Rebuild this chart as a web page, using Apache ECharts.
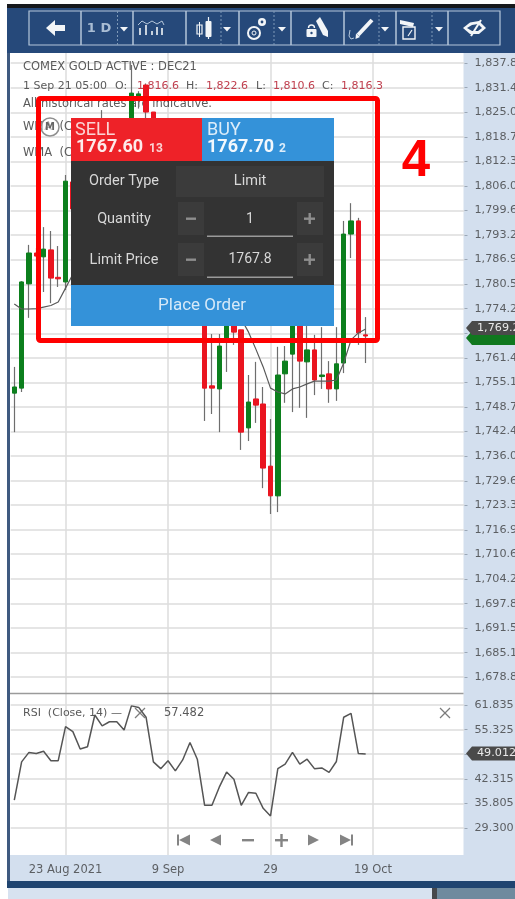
<!DOCTYPE html>
<html><head><meta charset="utf-8">
<style>html,body{margin:0;padding:0;background:#fff;overflow:hidden}#c{width:515px;height:899px}</style>
<script src="https://cdn.jsdelivr.net/npm/echarts@6/dist/echarts.min.js"></script>
</head><body><div id="c"></div>
<script>
const categories = ['12 Aug','13 Aug','16 Aug','17 Aug','18 Aug','19 Aug','20 Aug','23 Aug 2021','24 Aug','25 Aug','26 Aug','27 Aug','30 Aug','31 Aug','1 Sep','2 Sep','3 Sep','5 Sep','6 Sep','7 Sep','8 Sep','9 Sep','10 Sep','13 Sep','14 Sep','15 Sep','16 Sep','17 Sep','20 Sep','21 Sep','22 Sep','23 Sep','24 Sep','27 Sep','28 Sep','29','30 Sep','1 Oct','4 Oct','5 Oct','6 Oct','7 Oct','8 Oct','11 Oct','12 Oct','13 Oct','14 Oct','15 Oct','18 Oct','19 Oct','20 Oct','21 Oct','22 Oct','25 Oct','26 Oct','27 Oct','28 Oct','29 Oct','1 Nov','2 Nov','3 Nov','4 Nov'];
const labelledDates = ['23 Aug 2021','9 Sep','29','19 Oct'];
const opens = [1752.3,1753.6,1780.6,1788.6,1787.6,1789.4,1782.3,1781.1,1807.0,1800.0,1806.0,1812.0,1808.0,1818.0,1816.6,1816.0,1813.0,1828.2,1832.1,1825.1,1816.0,1816.0,1808.0,1812.0,1803.0,1796.0,1798.0,1754.2,1753.4,1766.6,1773.5,1768.7,1743.3,1750.8,1749.5,1733.4,1725.7,1757.3,1762.4,1771.5,1760.4,1763.5,1756.6,1757.3,1753.4,1760.1,1793.5,1796.9,1767.4];
const closes = [1753.9,1781.1,1788.6,1787.8,1789.6,1782.1,1781.9,1807.2,1800.0,1806.0,1812.0,1808.0,1818.0,1821.0,1816.3,1813.0,1830.0,1829.8,1825.1,1816.0,1818.0,1808.0,1812.0,1803.0,1796.0,1799.0,1753.6,1753.6,1764.5,1774.0,1768.1,1742.2,1750.0,1749.2,1732.9,1725.7,1757.0,1760.6,1773.0,1760.6,1763.5,1755.7,1757.0,1753.4,1759.9,1793.5,1796.9,1767.9,1767.1];
const lows = [1742.2,1752.6,1771.8,1786.3,1778.5,1775.6,1779.8,1779.0,1797,1798,1803,1805,1806,1816,1810.6,1811,1811,1826,1823.5,1812,1812,1805,1806,1801,1794,1794,1745.1,1746.9,1742.2,1757.8,1764.8,1737.6,1739.9,1744.6,1727.7,1721.0,1721.5,1749.8,1747.4,1748.5,1745.9,1751.8,1753.4,1749.8,1750.3,1757.5,1787.3,1764.8,1760.1];
const highs = [1759.1,1781.3,1790.7,1789.9,1795.3,1794.3,1790.4,1808.8,1809,1808,1814,1814,1825.6,1822.5,1822.6,1818,1837.3,1830.5,1832.5,1823,1820,1817,1814,1814,1804,1800,1800,1767.6,1767.6,1778,1775,1768.7,1757.0,1760.4,1753.9,1745.6,1764.3,1764.5,1777,1773,1771.2,1767.4,1769.4,1760.6,1769.4,1796.9,1801.5,1797.7,1772.0];
const wma = [1775.4,1774.1,1774.1,1774.2,1774.6,1775.0,1775.9,1779.5,1783.1,1788.1,1792.5,1795.8,1798.4,1801.0,1803.6,1806.2,1808.0,1810.1,1811.4,1812.7,1813.2,1812.7,1811.4,1809.6,1807.5,1804.9,1801.0,1795.8,1789.4,1782.9,1776.4,1771.5,1768.1,1763.7,1759.1,1753.6,1752.6,1752.1,1753.4,1753.9,1754.7,1755.4,1755.4,1755.4,1755.7,1760.1,1766.1,1767.9,1768.9];
const rsi = [36.7,46.8,49.3,49.0,49.6,47.1,47.1,56.1,54.8,50.2,50.8,59.2,56.3,57.4,57.4,55.2,61.6,61.2,58.6,46.8,45.0,47.1,44.4,47.3,51.9,47.5,35.3,35.3,40.1,44.1,42.2,35.3,38.7,38.5,34.5,32.5,45.0,46.2,49.3,46.2,47.5,45.0,45.2,44.0,46.9,58.6,59.6,49.0,48.9];
const priceTicks = [1837.8,1831.4,1825.0,1818.7,1812.3,1806.0,1799.6,1793.2,1786.9,1780.5,1774.2,1767.8,1761.4,1755.1,1748.7,1742.4,1736.0,1729.6,1723.3,1716.9,1710.6,1704.2,1697.8,1691.5,1685.1,1678.8];
const rsiTicks = [61.835,55.325,48.815,42.315,35.805,29.300];
const lastPrice = 1769.2, lastClose = 1767.1, lastRsi = 49.012;

const AXC='#5c5f63', GRID='#dcdcdc', UP='#0c7f1d', DOWN='#ea1520', WICK='#6e6e6e';
const axisFont='"DejaVu Sans"';
const chart = echarts.init(document.getElementById('c'),null,{renderer:'canvas'});
const wickData = opens.map((o,i)=>[o,closes[i],lows[i],highs[i]]);
const bodyData = opens.map((o,i)=>[o,closes[i],Math.min(o,closes[i]),Math.max(o,closes[i])]);
const L=10.64,R=50.5;
const xBase = {type:'category',data:categories,boundaryGap:true,
  axisLine:{show:false},
  axisTick:{show:false},
  splitLine:{show:true,alignWithLabel:true,interval:(i,v)=>labelledDates.includes(v),lineStyle:{color:GRID,width:1.5}}};
const yBase = {type:'value',position:'right',scale:true,axisLine:{show:false},
  splitLine:{show:true,lineStyle:{color:GRID,width:1.5}}};
chart.setOption({
  animation:false,
  backgroundColor:'#ffffff',
  grid:[{left:L,right:R,top:53,height:640,outerBoundsMode:'none',containLabel:false},{left:L,right:R,top:694,height:161,outerBoundsMode:'none',containLabel:false}],
  xAxis:[
    Object.assign({},xBase,{gridIndex:0,axisLabel:{show:false}}),
    Object.assign({},xBase,{gridIndex:1,position:'bottom',
      axisLabel:{show:true,interval:(i,v)=>labelledDates.includes(v),margin:9,color:AXC,fontFamily:axisFont,fontSize:11.5}})
  ],
  yAxis:[
    Object.assign({},yBase,{gridIndex:0,min:1674.65,max:1840.39,
      axisTick:{show:true,length:3,lineStyle:{color:'#9aa7b6'},customValues:priceTicks},
      axisLabel:{margin:10,color:AXC,fontFamily:axisFont,fontSize:11.2,customValues:priceTicks,showMinLabel:true,showMaxLabel:true,
        formatter:v=>v.toLocaleString('en-US',{minimumFractionDigits:1,maximumFractionDigits:1})}}),
    Object.assign({},yBase,{gridIndex:1,min:22.16,max:64.744,
      axisTick:{show:true,length:3,lineStyle:{color:'#9aa7b6'},customValues:rsiTicks},
      axisLabel:{margin:10,color:AXC,fontFamily:axisFont,fontSize:11.2,customValues:rsiTicks,showMinLabel:true,showMaxLabel:true,
        formatter:v=>v.toFixed(3)}})
  ],
  series:[
    {type:'candlestick',xAxisIndex:0,yAxisIndex:0,data:wickData,barWidth:1,silent:true,
     itemStyle:{color:WICK,color0:WICK,borderColor:WICK,borderColor0:WICK,borderColorDoji:WICK,borderWidth:1.2}},
    {type:'candlestick',xAxisIndex:0,yAxisIndex:0,data:bodyData,barWidth:5,silent:true,
     itemStyle:{color:UP,color0:DOWN,borderColor:UP,borderColor0:DOWN,borderColorDoji:DOWN,borderWidth:1}},
    {type:'line',xAxisIndex:0,yAxisIndex:0,data:wma,showSymbol:false,silent:true,smooth:false,lineStyle:{color:'#5a5a5a',width:1.2},z:4},
    {type:'line',xAxisIndex:1,yAxisIndex:1,data:rsi,showSymbol:false,silent:true,smooth:false,lineStyle:{color:'#555555',width:1.5},z:4}
  ]
});

const G=[];
const base={silent:true};
function rect(x,y,w,h,fill,z,r){G.push({...base,type:'rect',z,shape:{x,y,width:w,height:h,r:r||0},style:{fill}})}
function poly(pts,fill,z){G.push({...base,type:'polygon',z,shape:{points:pts},style:{fill}})}
function line(x1,y1,x2,y2,stroke,w,z,extra){G.push({...base,type:'line',z,shape:{x1,y1,x2,y2},style:Object.assign({stroke,lineWidth:w},extra||{})})}
function pline(pts,stroke,w,z){G.push({...base,type:'polyline',z,shape:{points:pts},style:{stroke,lineWidth:w,fill:null}})}
function circ(cx,cy,r,fill,stroke,w,z){G.push({...base,type:'circle',z,shape:{cx,cy,r},style:{fill:fill||'transparent',stroke:stroke||null,lineWidth:w||0}})}
function txt(x,y,t,o,z){G.push({...base,type:'text',z,x,y,style:Object.assign({text:t,fontFamily:'"DejaVu Sans"',fontSize:11.5,fill:'#555',textAlign:'left',textVerticalAlign:'middle'},o)})}

// page frame and axis strips
const STRIP='#d3dfee', BAR='#26497a';
rect(463.5,53,52,802,STRIP,-5);
rect(7,855,508,26,STRIP,-5);
rect(0,0,7,899,'#ffffff',30);
rect(7,53,3,829,'#3f5a80',30);
rect(7,881,508,7,'#1f4470',30);
rect(8,888,507,11,'#d7e2f0',30);
rect(432,888,5,11,'#46484c',31);
rect(437,888,78,11,'#6f8a9e',31);
rect(7,4,508,4,'#16181c',30);
rect(7,8,508,45,BAR,30);
rect(0,0,515,4,'#ffffff',30);
line(10,693.5,463.5,693.5,'#9b9b9b',1.5,6);

// toolbar
const TL='#b4c6da', TW='#f2f5f8';
G.push({...base,type:'rect',z:31,shape:{x:29,y:11,width:471,height:34},style:{fill:'transparent',stroke:TL,lineWidth:1.2}});
[81,133,186,239,291,344,396,448].forEach(x=>line(x,11,x,45,TL,1.5,31));
[117.5,221,274,379,432].forEach(x=>line(x,11,x,45,'#7f9ab8',1,31,{lineDash:[2,2]}));
poly([[46,28],[55,20],[55,25],[65,25],[65,31],[55,31],[55,36]],TW,32);
txt(99,29,'1 D',{fontFamily:'"DejaVu Sans"',fontSize:13,fontWeight:'bold',fill:'#a9bdd4',textAlign:'center'},32);
[124,227,282,385,439].forEach(x=>poly([[x-4,27],[x+4,27],[x,31.5]],TW,32));
pline([[138,25],[142,21],[147,24],[152,21],[157,24],[162,21],[164,25]],TL,1,32);
[[140,28],[146,25],[152,31],[157,27],[162,28]].forEach(b=>line(b[0],b[1],b[0],35,TW,1.6,32));
G.push({...base,type:'rect',z:32,shape:{x:197,y:25,width:5,height:9},style:{fill:'transparent',stroke:TW,lineWidth:1.2}});
line(199.5,22,199.5,37,TW,1,32);
rect(205.5,21,6,16,TW,32,1);line(208.5,17,208.5,39,TW,1.2,32);
circ(254,33,6,'transparent',TW,2,32);circ(254,33,2,'transparent',TW,1,32);
circ(262,22,4,TW,null,0,32);circ(262,22,1.4,BAR,null,0,32);
rect(306.5,29,10,8,TW,32,1);circ(311.5,33,1.2,BAR,null,0,33);
G.push({...base,type:'arc',z:32,shape:{cx:311.5,cy:28,r:3,startAngle:Math.PI,endAngle:0},style:{fill:null,stroke:TW,lineWidth:1.4}});
poly([[316,21],[320,17],[328,31],[328,37],[323,35]],TW,32);
line(372,20,358,35,TW,4,32);poly([[355.5,39],[356,33.5],[360,37]],TW,32);
pline([[350,30],[349,36],[351,39],[354,38]],TL,1,32);
G.push({...base,type:'rect',z:32,shape:{x:403,y:27,width:12,height:12},style:{fill:'transparent',stroke:TW,lineWidth:1.4}});
poly([[400,20],[414,23],[413,27],[400,24]],TW,32);line(408,36,412,30,TW,1.2,32);
poly([[463,28],[470,22.5],[479,21],[486,28],[479,34],[470,34]],TW,32);
poly([[467,28],[472,25],[478,24],[482,28],[478,31],[472,31]],BAR,33);
line(471,36,481,20,TW,2,34);

// info text
txt(23,67.5,'COMEX GOLD ACTIVE : DEC21',{fill:'#5a5a5a'},1);
txt(23,86,'1 Sep 21 05:00',{fill:'#5a5a5a',fontSize:11},1);
txt(115,86,'O:',{fill:'#5a5a5a',fontSize:11},1);txt(137,86,'1,816.6',{fill:'#c0404f',fontSize:11},1);
txt(186,86,'H:',{fill:'#5a5a5a',fontSize:11},1);txt(206,86,'1,822.6',{fill:'#c0404f',fontSize:11},1);
txt(256,86,'L:',{fill:'#5a5a5a',fontSize:11},1);txt(273,86,'1,810.6',{fill:'#c0404f',fontSize:11},1);
txt(322,86,'C:',{fill:'#5a5a5a',fontSize:11},1);txt(341,86,'1,816.3',{fill:'#c0404f',fontSize:11},1);
txt(23,104.5,'All historical rates are indicative.',{fill:'#5a5a5a'},1);
txt(23,127.5,'WMA  (C',{fill:'#5a5a5a'},1);
circ(50,127,9,'rgba(255,255,255,0.6)','#8f8f8f',1.5,5);
txt(50,127,'M',{fill:'#666',fontSize:10,fontWeight:'bold',textAlign:'center'},6);
txt(23,153,'WMA  (C',{fill:'#5a5a5a'},1);

// order panel
const PF='Roboto';
rect(71,118,131,43,'#ee2228',20);
rect(202,118,132,43,'#3492d9',20);
rect(71,161,263,124,'#333333',20);
rect(71,285,263,41,'#3492d9',20);
txt(75,130,'SELL',{fontFamily:PF,fontSize:18,fill:'#fbd4d4'},21);
txt(76,147.5,'1767.60',{fontFamily:PF,fontSize:18,fontWeight:'bold',fill:'#fdeaea'},21);
txt(149,149,'13',{fontFamily:PF,fontSize:12,fontWeight:'bold',fill:'#fbd4d4'},21);
txt(207,130,'BUY',{fontFamily:PF,fontSize:18,fill:'#dcedfa'},21);
txt(207,147.5,'1767.70',{fontFamily:PF,fontSize:18,fontWeight:'bold',fill:'#f2f8fd'},21);
txt(279,149,'2',{fontFamily:PF,fontSize:12,fontWeight:'bold',fill:'#dcedfa'},21);
const PT='#d8d8d8';
txt(124,181.5,'Order Type',{fontFamily:PF,fontSize:14.5,fill:PT,textAlign:'center'},21);
txt(124,219.5,'Quantity',{fontFamily:PF,fontSize:14.5,fill:PT,textAlign:'center'},21);
txt(124,260,'Limit Price',{fontFamily:PF,fontSize:14.5,fill:PT,textAlign:'center'},21);
rect(176,166,148,31,'#3b3b3b',21);
txt(250,181,'Limit',{fontFamily:PF,fontSize:14.5,fill:PT,textAlign:'center'},22);
[[202,236],[243,277]].forEach(r=>{
  rect(178,r[0],26,r[1]-r[0]-1,'#3b3b3b',21);
  rect(297,r[0],26,r[1]-r[0]-1,'#3b3b3b',21);
  const m=(r[0]+r[1])/2-0.5;
  rect(186,m-1,10,2.4,'#8e8e8e',22);
  rect(304,m-1,11,2.4,'#8e8e8e',22);
  rect(308.5,m-5.5,2.4,11,'#8e8e8e',22);
  rect(207,r[1]-0.5,86,1.6,'#9a9a9a',22);
});
txt(250,219,'1',{fontFamily:PF,fontSize:14,fill:PT,textAlign:'center'},22);
txt(250,259.5,'1767.8',{fontFamily:PF,fontSize:14,fill:PT,textAlign:'center'},22);
txt(202,305.5,'Place Order',{fontFamily:PF,fontSize:17,fill:'#d6e9f8',textAlign:'center'},21);

// annotation
G.push({...base,type:'rect',z:25,shape:{x:38.5,y:98.5,width:339,height:242,r:2},style:{fill:'transparent',stroke:'#ff0000',lineWidth:5}});
txt(416,162,'4',{fontFamily:'"Liberation Sans"',fontSize:51,fontWeight:'bold',fill:'#ff0000',textAlign:'center'},25);

// RSI overlay text and controls
txt(23,713,'RSI  (Close, 14) —',{fill:'#5a5a5a',fontSize:11},1);
line(135,708,145,718,'#7c7c7c',1.3,1);line(145,708,135,718,'#7c7c7c',1.3,1);
txt(164,713,'57.482',{fill:'#5a5a5a',fontSize:11.5},1);
line(440,708,450,718,'#7c7c7c',1.3,6);line(450,708,440,718,'#7c7c7c',1.3,6);
const NAV='#848484';
rect(177,834.5,2,11,NAV,6);poly([[179,840],[190,834.5],[190,845.5]],NAV,6);
poly([[210,840],[221,834.5],[221,845.5]],NAV,6);
rect(242,839,12,2.4,NAV,6);
rect(275,839,13,2.4,NAV,6);rect(280.3,834,2.4,13,NAV,6);
poly([[308,834.5],[319,840],[308,845.5]],NAV,6);
poly([[340,834.5],[351,840],[340,845.5]],NAV,6);rect(351,834.5,2,11,NAV,6);

// last-value tags follow the axis scales
const py=chart.convertToPixel({yAxisIndex:0},lastPrice), cy=chart.convertToPixel({yAxisIndex:0},lastClose), ry=chart.convertToPixel({yAxisIndex:1},lastRsi);
function tag(y,fill,label,z,tx){
  poly([[466,y],[472,y-7],[515,y-7],[515,y+7],[472,y+7]],fill,z);
  if(label) txt(tx,y,label,{fontSize:11.2,fill:'#e9e9e9'},z+1);
}
tag(cy+2,'#10781f','',8,0);
tag(py,'#4a4a4a',lastPrice.toLocaleString('en-US',{minimumFractionDigits:1}),9,477);
tag(ry,'#4a4a4a',lastRsi.toFixed(3),9,477);

chart.setOption({graphic:{elements:G}});
</script></body></html>
